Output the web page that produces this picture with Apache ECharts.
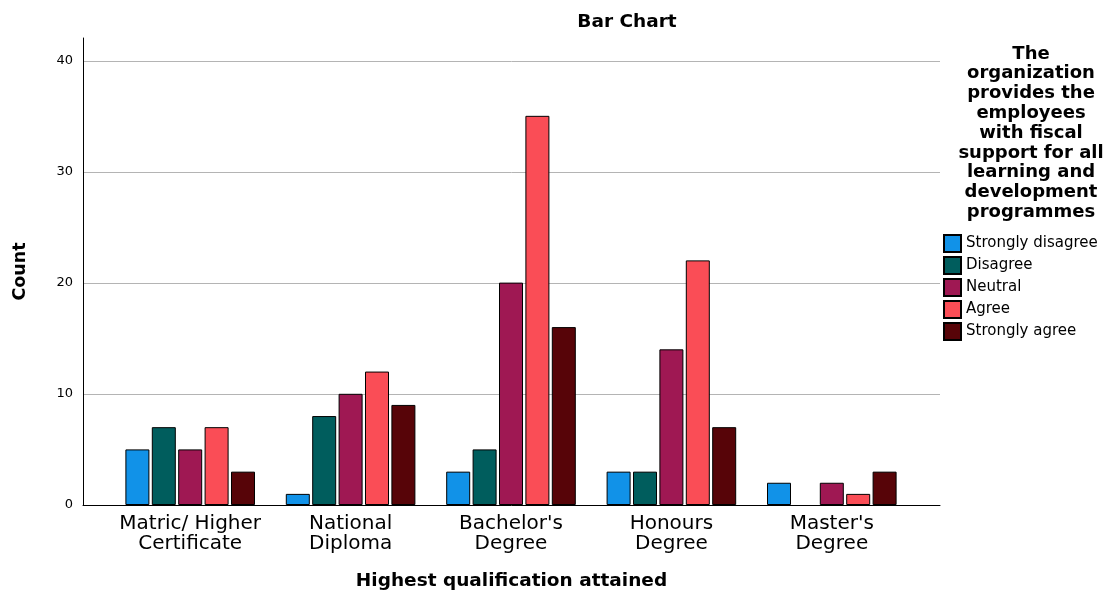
<!DOCTYPE html>
<html><head><meta charset="utf-8">
<script src="https://cdn.jsdelivr.net/npm/echarts@6/dist/echarts.min.js"></script>
<style>html,body{margin:0;padding:0;background:#fff}#c{width:1114px;height:594px}</style>
</head><body><div id="c"></div>
<script>
const categories = ["Matric/ Higher\nCertificate", "National\nDiploma", "Bachelor's\nDegree", "Honours\nDegree", "Master's\nDegree"];
const seriesNames = ["Strongly disagree", "Disagree", "Neutral", "Agree", "Strongly agree"];
const stronglyDisagree = [5, 1, 3, 3, 2];
const disagree = [7, 8, 5, 3, null];
const neutral = [5, 10, 20, 14, 2];
const agree = [7, 12, 35, 22, 1];
const stronglyAgree = [3, 9, 16, 7, 3];
const yTicks = [0, 10, 20, 30, 40];
const colors = ["#1192e8", "#005d5d", "#9f1853", "#fa4d56", "#570408"];
const legendTitle = "The\norganization\nprovides the\nemployees\nwith fiscal\nsupport for all\nlearning and\ndevelopment\nprogrammes";

const values = [stronglyDisagree, disagree, neutral, agree, stronglyAgree];
const FONT = "'DejaVu Sans', Verdana, sans-serif";
const chart = echarts.init(document.getElementById('c'));
const option = {
  animation: false,
  backgroundColor: '#fff',
  title: {
    text: 'Bar Chart', left: 622, top: 8, textAlign: 'center',
    textStyle: {fontFamily: FONT, fontSize: 18.5, fontWeight: 'bold', color: '#000'}
  },
  legend: {
    orient: 'vertical', left: 938, top: 229, itemWidth: 17, itemHeight: 17, itemGap: 3,
    icon: 'rect', data: seriesNames,
    textStyle: {fontFamily: FONT, fontSize: 15, color: '#000', lineHeight: 17}
  },
  graphic: [{
    type: 'text', x: 1031, y: 44,
    style: {text: legendTitle, textAlign: 'center', textVerticalAlign: 'top', font: 'bold 18px ' + FONT, lineHeight: 19.8, fill: '#000'}
  }],
  grid: [
    {left: 83, right: 174, top: 38, bottom: 89, outerBoundsMode: 'none', containLabel: false},
    {left: 110, right: 202, top: 38, bottom: 89, outerBoundsMode: 'none', containLabel: false},
    {left: 83, right: 174, top: 61, bottom: 89, outerBoundsMode: 'none', containLabel: false}
  ],
  xAxis: [
    {gridIndex: 0, type: 'category', data: [''], axisLine: {lineStyle: {color: '#000', width: 1}}, axisTick: {show: false}, axisLabel: {show: false},
     name: 'Highest qualification attained', nameLocation: 'middle', nameGap: 67,
     nameTextStyle: {fontFamily: FONT, fontSize: 18.5, fontWeight: 'bold', color: '#000'}},
    {gridIndex: 1, type: 'category', data: categories, axisLine: {show: false}, axisTick: {show: false},
     axisLabel: {fontFamily: FONT, fontSize: 20, color: '#000', lineHeight: 20, margin: 9, interval: 0}},
    {gridIndex: 2, type: 'category', data: [''], show: false}
  ],
  yAxis: [
    {gridIndex: 0, type: 'value', min: 0, max: 42,
     axisLine: {show: true, lineStyle: {color: '#000', width: 1}}, axisTick: {show: false},
     axisLabel: {show: false}, splitLine: {show: false},
     name: 'Count', nameLocation: 'middle', nameGap: 54, nameRotate: 90,
     nameTextStyle: {fontFamily: FONT, fontSize: 17.5, fontWeight: 'bold', color: '#000'}},
    {gridIndex: 1, type: 'value', min: 0, max: 42, show: false, splitLine: {show: false}},
    {gridIndex: 2, type: 'value', min: 0, max: 40, interval: 10,
     axisLine: {show: false}, axisTick: {show: false},
     axisLabel: {fontFamily: FONT, fontSize: 13, color: '#000', margin: 10, formatter: v => yTicks.includes(v) ? String(v) : ''},
     splitLine: {show: true, lineStyle: {color: '#b4b4b4', width: 1}}}
  ],
  series: seriesNames.map((n, i) => ({
    name: n, type: 'bar', xAxisIndex: 1, yAxisIndex: 1,
    data: values[i], barWidth: 24, barGap: '10%',
    itemStyle: {color: colors[i], borderColor: '#000', borderWidth: 1}
  }))
};
chart.setOption(option);
</script></body></html>
